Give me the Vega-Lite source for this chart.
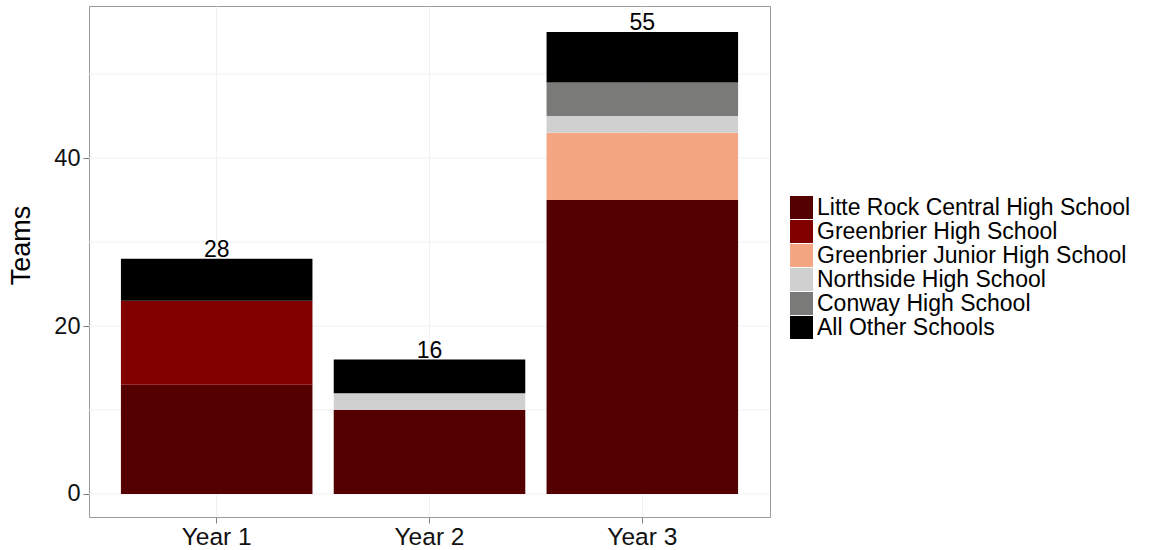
{
  "$schema": "https://vega.github.io/schema/vega-lite/v6.json",
  "autosize": {"type": "none"},
  "width": 681,
  "height": 511,
  "padding": {"left": 89, "top": 6, "right": 381, "bottom": 33},
  "background": "white",
  "config": {
    "font": "Liberation Sans",
    "view": {"stroke": "#9a9a9a", "strokeWidth": 1}
  },
  "data": {
    "values": [
      {"year": "Year 1", "school": "Litte Rock Central High School", "rank": 1, "teams": 13},
      {"year": "Year 1", "school": "Greenbrier High School", "rank": 2, "teams": 10},
      {"year": "Year 1", "school": "All Other Schools", "rank": 6, "teams": 5},
      {"year": "Year 2", "school": "Litte Rock Central High School", "rank": 1, "teams": 10},
      {"year": "Year 2", "school": "Northside High School", "rank": 4, "teams": 2},
      {"year": "Year 2", "school": "All Other Schools", "rank": 6, "teams": 4},
      {"year": "Year 3", "school": "Litte Rock Central High School", "rank": 1, "teams": 35},
      {"year": "Year 3", "school": "Greenbrier Junior High School", "rank": 3, "teams": 8},
      {"year": "Year 3", "school": "Northside High School", "rank": 4, "teams": 2},
      {"year": "Year 3", "school": "Conway High School", "rank": 5, "teams": 4},
      {"year": "Year 3", "school": "All Other Schools", "rank": 6, "teams": 6}
    ]
  },
  "encoding": {
    "x": {
      "field": "year",
      "type": "nominal",
      "scale": {"paddingInner": 0.1, "paddingOuter": 0.15},
      "axis": {
        "title": null,
        "labelAngle": 0,
        "labelFontSize": 24.5,
        "labelColor": "#111111",
        "labelPadding": 2,
        "tickColor": "#7f7f7f",
        "tickSize": 6,
        "domain": false,
        "grid": true,
        "gridColor": "#f0f0f0",
        "bandPosition": 0.5
      }
    }
  },
  "layer": [
    {
      "mark": {"type": "rule", "color": "#f0f0f0", "strokeWidth": 1},
      "data": {"values": [{"v": 10}, {"v": 30}, {"v": 50}, {"v": 0}, {"v": 20}, {"v": 40}]},
      "encoding": {"x": null, "y": {"field": "v", "type": "quantitative"}}
    },
    {
      "mark": {"type": "bar"},
      "encoding": {
        "y": {
          "field": "teams",
          "type": "quantitative",
          "stack": "zero",
          "scale": {"domain": [-2.74, 58.1], "nice": false, "zero": false},
          "axis": {
            "title": "Teams",
            "titleFontSize": 27,
            "titleFontWeight": "normal",
            "titleColor": "#000000",
            "titlePadding": 18,
            "titleY": 239,
            "values": [0, 20, 40],
            "labelFontSize": 23.5,
            "labelColor": "#111111",
            "labelPadding": 3,
            "tickColor": "#7f7f7f",
            "tickSize": 6,
            "domain": false,
            "grid": false
          }
        },
        "order": {"field": "rank", "type": "quantitative", "sort": "ascending"},
        "color": {
          "field": "school",
          "type": "nominal",
          "scale": {
            "domain": ["Litte Rock Central High School", "Greenbrier High School", "Greenbrier Junior High School", "Northside High School", "Conway High School", "All Other Schools"],
            "range": ["#540000", "#800000", "#f4a683", "#d0d0d0", "#7a7b78", "#000000"]
          },
          "legend": {
            "title": null,
            "orient": "none",
            "legendX": 701,
            "legendY": 190,
            "symbolType": "square",
            "symbolSize": 529,
            "symbolStrokeWidth": 0,
            "labelFontSize": 23,
            "labelColor": "#000000",
            "labelOffset": 4,
            "rowPadding": 0,
            "labelLimit": 400
          }
        }
      }
    },
    {
      "transform": [
        {"aggregate": [{"op": "sum", "field": "teams", "as": "total"}], "groupby": ["year"]}
      ],
      "mark": {"type": "text", "fontSize": 23, "baseline": "alphabetic", "dy": -2, "color": "#000000"},
      "encoding": {
        "y": {"field": "total", "type": "quantitative"},
        "text": {"field": "total", "type": "quantitative"}
      }
    }
  ]
}
